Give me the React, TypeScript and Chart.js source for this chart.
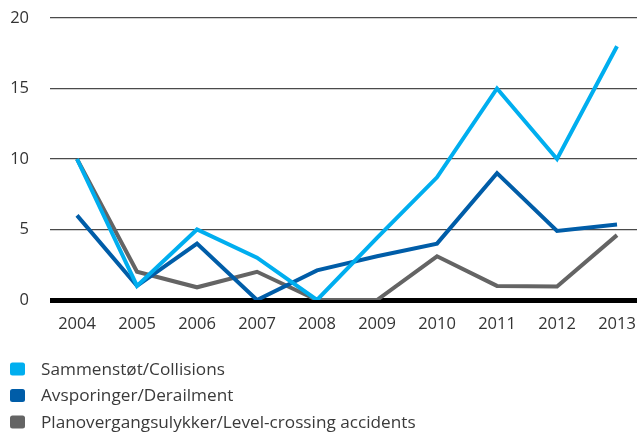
import React, { useEffect, useRef } from "react";
import { Chart, registerables } from "chart.js";

Chart.register(...registerables);

const years = [2004, 2005, 2006, 2007, 2008, 2009, 2010, 2011, 2012, 2013];
const collisions = [10, 1, 5, 3, 0, 4.4, 8.7, 15, 10, 18];
const derailment = [6, 1, 4, 0, 2.1, 3.1, 4, 9, 4.9, 5.35];
const levelCrossing = [10, 2, 0.9, 2, 0, 0, 3.1, 1, 0.95, 4.6];
const yTicks = [0, 5, 10, 15, 20];
const seriesLabels = [
  "Sammenstøt/Collisions",
  "Avsporinger/Derailment",
  "Planovergangsulykker/Level-crossing accidents",
];
const seriesColors = ["#00aeef", "#005da8", "#646464"];

const FONT = '"Open Sans", "Noto Sans", sans-serif';

const legendPlugin = {
  id: "stackedLegend",
  afterDraw(chart: any) {
    const ctx = chart.ctx;
    ctx.save();
    ctx.font = `17.2px ${FONT}`;
    ctx.textBaseline = "middle";
    ctx.textAlign = "left";
    chart.data.datasets.forEach((ds: any, i: number) => {
      const y = 369 + i * 26.5;
      ctx.fillStyle = ds.borderColor;
      ctx.beginPath();
      if (ctx.roundRect) ctx.roundRect(10, y - 6.5, 15, 13, 2.5);
      else ctx.rect(10, y - 6.5, 15, 13);
      ctx.fill();
      ctx.fillStyle = "#3a3a3a";
      ctx.fillText(ds.label, 41, y + 1);
    });
    ctx.restore();
  },
};

export default function App() {
  const ref = useRef<HTMLCanvasElement | null>(null);

  useEffect(() => {
    if (!ref.current) return;
    const makeSeries = (vals: number[]) => vals.map((v, i) => ({ x: years[i], y: v }));
    const series = [collisions, derailment, levelCrossing];
    const chart = new Chart(ref.current, {
      type: "line",
      data: {
        datasets: series.map((vals, i) => ({
          label: seriesLabels[i],
          data: makeSeries(vals),
          borderColor: seriesColors[i],
          backgroundColor: seriesColors[i],
          borderWidth: 4,
          pointRadius: 0,
          tension: 0,
          fill: false,
        })),
      },
      options: {
        animation: false,
        responsive: false,
        devicePixelRatio: 1,
        layout: { padding: { top: 18, right: 0, bottom: 92, left: 0 } },
        plugins: {
          legend: { display: false },
          tooltip: { enabled: false },
          title: { display: false },
        },
        scales: {
          x: {
            type: "linear",
            min: 2003.55,
            max: 2013.333,
            afterBuildTicks: (scale: any) => {
              scale.ticks = years.map((v) => ({ value: v }));
            },
            afterFit: (scale: any) => {
              scale.height = 40;
              scale.paddingLeft = 0;
              scale.paddingRight = 0;
            },
            grid: { display: false, drawTicks: false },
            border: { display: false },
            ticks: {
              autoSkip: false,
              maxRotation: 0,
              padding: 14,
              color: "#333",
              font: { family: FONT, size: 16.5 },
              callback: (v: any) => String(v),
            },
          },
          y: {
            type: "linear",
            min: 0,
            max: 20,
            afterBuildTicks: (scale: any) => {
              scale.ticks = yTicks.map((v) => ({ value: v }));
            },
            afterFit: (scale: any) => {
              scale.width = 50;
              scale.paddingTop = 0;
              scale.paddingBottom = 0;
            },
            grid: {
              drawTicks: false,
              color: (ctx: any) => (ctx.tick && ctx.tick.value === 0 ? "#000" : "#4a4a4a"),
              lineWidth: (ctx: any) => (ctx.tick && ctx.tick.value === 0 ? 5 : 1.3),
            },
            border: { display: false },
            ticks: {
              padding: 21,
              color: "#333",
              font: { family: FONT, size: 16.5 },
            },
          },
        },
      },
      plugins: [legendPlugin],
    } as any);
    return () => chart.destroy();
  }, []);

  return (
    <div style={{ position: "absolute", left: 0, top: 0, width: 637, height: 432, background: "#fff" }}>
      <canvas ref={ref} width={637} height={432} style={{ width: 637, height: 432, display: "block" }} />
    </div>
  );
}
